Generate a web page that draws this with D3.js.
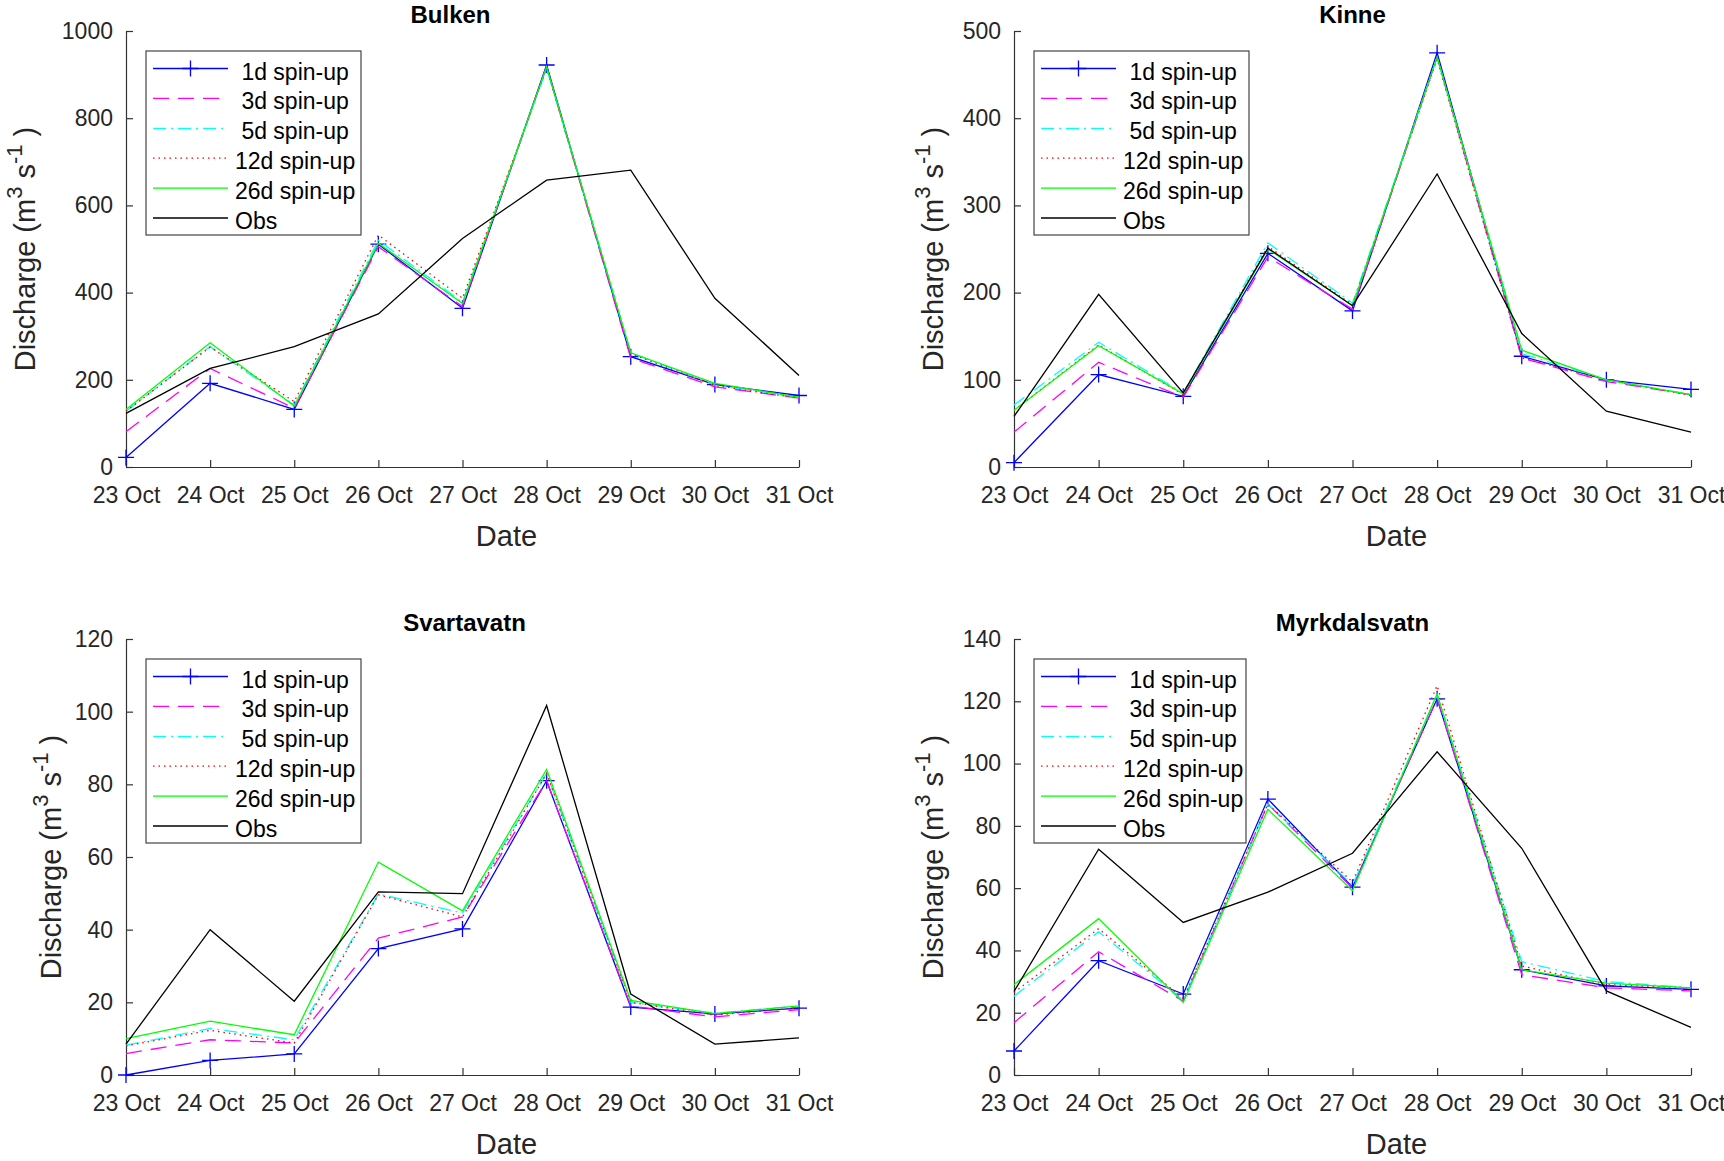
<!DOCTYPE html>
<html>
<head>
<meta charset="utf-8">
<script src="https://cdn.jsdelivr.net/npm/d3@7"></script>
<style>
  html, body { margin: 0; padding: 0; background: #fff; }
  svg { display: block; font-family: "Liberation Sans", Arial, Helvetica, sans-serif; }
</style>
</head>
<body>
<svg id="chart" width="1724" height="1161"></svg>
<script>
// ---- Data ----
const dates = ["23 Oct", "24 Oct", "25 Oct", "26 Oct", "27 Oct", "28 Oct", "29 Oct", "30 Oct", "31 Oct"];
const seriesLabels = [" 1d spin-up", " 3d spin-up", " 5d spin-up", "12d spin-up", "26d spin-up", "Obs"];
const panelTitles = ["Bulken", "Kinne", "Svartavatn", "Myrkdalsvatn"];

const bulkenTicks = [0, 200, 400, 600, 800, 1000];
const kinneTicks = [0, 100, 200, 300, 400, 500];
const svartavatnTicks = [0, 20, 40, 60, 80, 100, 120];
const myrkdalsvatnTicks = [0, 20, 40, 60, 80, 100, 120, 140];

const bulken1d  = [22, 192, 132, 511, 364, 922, 253, 189, 164];
const bulken3d  = [81, 226, 135, 505, 368, 918, 250, 184, 158];
const bulken5d  = [128, 276, 142, 520, 378, 915, 262, 188, 160];
const bulken12d = [128, 275, 150, 532, 387, 915, 260, 187, 158];
const bulken26d = [132, 285, 140, 513, 375, 918, 262, 192, 160];
const bulkenObs = [123, 226, 276, 351, 524, 658, 681, 387, 210];

const kinne1d  = [5, 106, 81, 245, 179, 475, 127, 100, 89];
const kinne3d  = [40, 120, 80, 241, 181, 470, 125, 98, 83];
const kinne5d  = [71, 143, 85, 257, 188, 470, 130, 100, 83];
const kinne12d = [65, 140, 83, 253, 186, 468, 125, 100, 82];
const kinne26d = [65, 139, 84, 250, 185, 470, 134, 100, 83];
const kinneObs = [58, 198, 85, 251, 185, 336, 153, 64, 40];

const svartavatn1d  = [0, 4, 5.8, 34.8, 40.2, 81, 18.7, 16.8, 18.4];
const svartavatn3d  = [5.9, 9.7, 8.8, 37.7, 43.5, 81, 19, 16, 18];
const svartavatn5d  = [8.2, 12.8, 9.7, 49.8, 44.6, 83, 20, 17, 19];
const svartavatn12d = [8, 12.3, 8.8, 49.6, 43.5, 83, 20, 16.5, 18.5];
const svartavatn26d = [10, 14.8, 11.1, 58.6, 45.2, 84.1, 20.5, 16.9, 19];
const svartavatnObs = [8.5, 40, 20.3, 50.4, 49.9, 101.7, 22.3, 8.5, 10.2];

const myrkdalsvatn1d  = [7.7, 36.7, 26, 88.6, 60.3, 120.8, 33.8, 28.6, 27.5];
const myrkdalsvatn3d  = [16.8, 39.6, 23.7, 87, 60, 121, 32.2, 28, 27];
const myrkdalsvatn5d  = [25.3, 46, 24, 87, 61, 122, 36.4, 30, 28];
const myrkdalsvatn12d = [26.5, 47, 24.5, 87, 62, 125, 35, 29, 28];
const myrkdalsvatn26d = [29, 50.2, 23.3, 85.3, 59.2, 122.4, 33.8, 29.5, 28];
const myrkdalsvatnObs = [26.8, 72.5, 49, 58.7, 71.2, 103.8, 72.8, 27, 15.3];

// ---- Styles ----
const seriesStyles = [
  { color: "#0000ff", dash: null, marker: true },
  { color: "#ff00ff", dash: "16,9", marker: false },
  { color: "#00ffff", dash: "13,5,2,5", marker: false },
  { color: "#ff0000", dash: "1.5,4", marker: false },
  { color: "#00ff00", dash: null, marker: false },
  { color: "#000000", dash: null, marker: false }
];

const panels = [
  { title: panelTitles[0], titleDx: -12, ylabelDx: -91, ticks: bulkenTicks, left: 126, right: 799, top: 31, bottom: 467,
    series: [bulken1d, bulken3d, bulken5d, bulken12d, bulken26d, bulkenObs], legendW: 215 },
  { title: panelTitles[1], titleDx: 0, ylabelDx: -71, ticks: kinneTicks, left: 1014, right: 1691, top: 31, bottom: 467,
    series: [kinne1d, kinne3d, kinne5d, kinne12d, kinne26d, kinneObs], legendW: 215 },
  { title: panelTitles[2], titleDx: 2, ylabelDx: -65, ticks: svartavatnTicks, left: 126, right: 799, top: 639, bottom: 1075,
    series: [svartavatn1d, svartavatn3d, svartavatn5d, svartavatn12d, svartavatn26d, svartavatnObs], legendW: 215 },
  { title: panelTitles[3], titleDx: 0, ylabelDx: -71, ticks: myrkdalsvatnTicks, left: 1014, right: 1691, top: 639, bottom: 1075,
    series: [myrkdalsvatn1d, myrkdalsvatn3d, myrkdalsvatn5d, myrkdalsvatn12d, myrkdalsvatn26d, myrkdalsvatnObs], legendW: 212 }
];

const svg = d3.select("#chart");
const axisColor = "#333333";
const tickTextColor = "#262626";

function plus(sel, size) {
  return sel.append("path")
    .attr("d", `M${-size},0H${size}M0,${-size}V${size}`);
}

panels.forEach(p => {
  const x = d3.scalePoint().domain(dates).range([p.left, p.right]).padding(0);
  const y = d3.scaleLinear().domain([0, d3.max(p.ticks)]).range([p.bottom, p.top]);
  const g = svg.append("g");

  // Axes
  const yAxis = d3.axisLeft(y).tickValues(p.ticks).tickFormat(d3.format("d"))
    .tickSizeInner(-7).tickSizeOuter(0).tickPadding(13);
  const ga = g.append("g").attr("transform", `translate(${p.left},0)`).call(yAxis);
  const xAxis = d3.axisBottom(x).tickSizeInner(-7).tickSizeOuter(0).tickPadding(20);
  const gx = g.append("g").attr("transform", `translate(0,${p.bottom})`).call(xAxis);
  [ga, gx].forEach(a => {
    a.select(".domain").attr("stroke", axisColor).attr("stroke-width", 1.2);
    a.selectAll(".tick line").attr("stroke", axisColor).attr("stroke-width", 1.2);
    a.selectAll(".tick text").attr("fill", tickTextColor).attr("font-size", 23)
      .attr("font-family", "'Liberation Sans', Arial, sans-serif");
  });

  // Series
  const line = d3.line().x((d, i) => x(dates[i])).y(d => y(d));
  p.series.forEach((vals, si) => {
    const st = seriesStyles[si];
    g.append("path")
      .datum(vals)
      .attr("fill", "none")
      .attr("stroke", st.color)
      .attr("stroke-width", 1.3)
      .attr("stroke-dasharray", st.dash)
      .attr("stroke-linejoin", "miter")
      .attr("d", line);
    if (st.marker) {
      g.append("g").selectAll("g").data(vals).join("g")
        .attr("transform", (d, i) => `translate(${x(dates[i])},${y(d)})`)
        .each(function() {
          plus(d3.select(this), 8).attr("stroke", st.color).attr("stroke-width", 1.3).attr("fill", "none");
        });
    }
  });

  // Title
  g.append("text")
    .attr("x", (p.left + p.right) / 2 + p.titleDx)
    .attr("y", p.top - 8)
    .attr("text-anchor", "middle")
    .attr("font-size", 24)
    .attr("font-weight", "bold")
    .attr("fill", "#000")
    .text(p.title);

  // X label
  g.append("text")
    .attr("x", (p.left + p.right) / 2 + 44)
    .attr("y", p.bottom + 79)
    .attr("text-anchor", "middle")
    .attr("font-size", 29)
    .attr("fill", tickTextColor)
    .text("Date");

  // Y label
  const yl = g.append("text")
    .attr("transform", `translate(${p.left + p.ylabelDx},${(p.top + p.bottom) / 2}) rotate(-90)`)
    .attr("text-anchor", "middle")
    .attr("font-size", 29)
    .attr("fill", tickTextColor);
  yl.append("tspan").text("Discharge (m");
  yl.append("tspan").attr("font-size", 22).attr("dy", -13).text("3");
  yl.append("tspan").attr("dy", 13).text(" s");
  yl.append("tspan").attr("font-size", 22).attr("dy", -13).text("-1");
  yl.append("tspan").attr("dy", 13).text(" )");

  // Legend
  const lx = p.left + 20, ly = p.top + 20, lw = p.legendW, lh = 184;
  const lg = g.append("g").attr("transform", `translate(${lx},${ly})`);
  lg.append("rect").attr("width", lw).attr("height", lh)
    .attr("fill", "#fff").attr("stroke", "#444").attr("stroke-width", 1.2);
  seriesLabels.forEach((lab, si) => {
    const st = seriesStyles[si];
    const ry = 17.5 + si * 29.9;
    lg.append("line").attr("x1", 7).attr("x2", 82).attr("y1", ry).attr("y2", ry)
      .attr("stroke", st.color).attr("stroke-width", 1.3).attr("stroke-dasharray", st.dash);
    if (st.marker) {
      plus(lg.append("g").attr("transform", `translate(44.5,${ry})`), 8)
        .attr("stroke", st.color).attr("stroke-width", 1.3);
    }
    lg.append("text")
      .attr("x", 89).attr("y", ry + 3).attr("dy", "0.35em")
      .attr("font-size", 23).attr("fill", "#000")
      .style("white-space", "pre")
      .text(lab);
  });
});
</script>
</body>
</html>
